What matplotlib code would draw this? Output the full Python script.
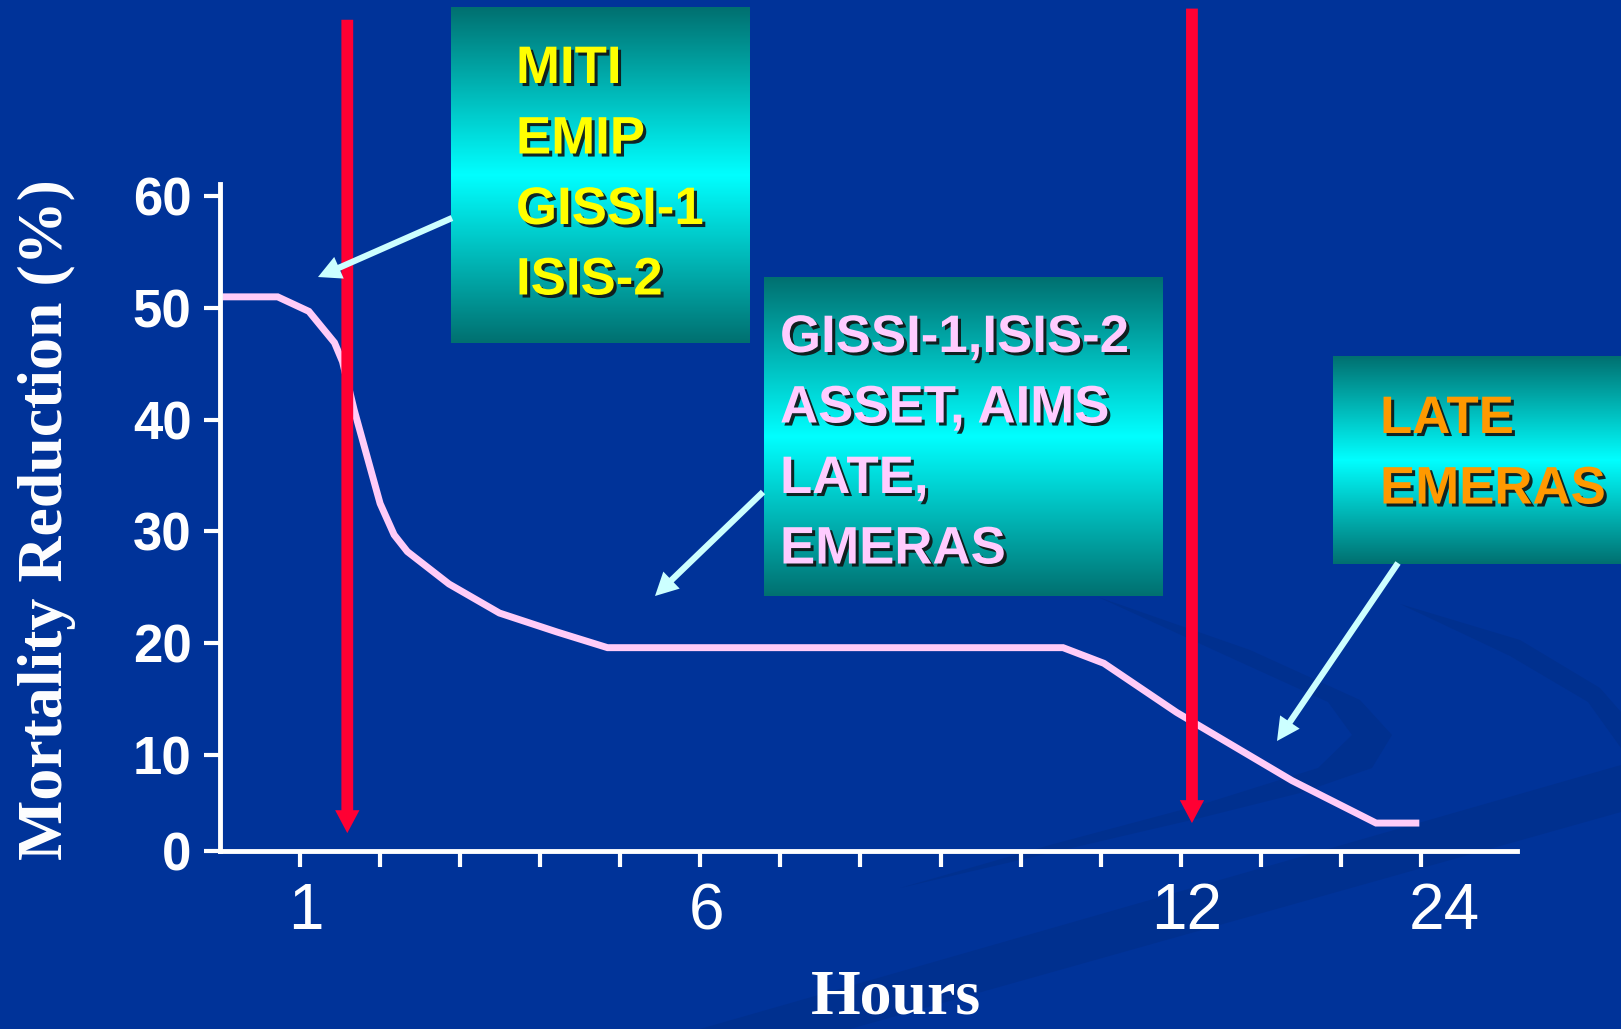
import matplotlib
matplotlib.use("Agg")
import numpy as np
import matplotlib.pyplot as plt
import matplotlib.patheffects as pe
from matplotlib.patches import FancyArrowPatch, ArrowStyle, Polygon
from matplotlib.colors import LinearSegmentedColormap
from matplotlib.transforms import ScaledTranslation

# values
hour_slots = list(range(15))
hour_labels = ['1', '', '', '', '', '6', '', '', '', '', '', '12', '', '', '24']
curve_x = [-0.97, -0.28, 0.11, 0.43, 0.53, 0.675, 1.0, 1.175, 1.34, 1.86, 2.49,
           3.21, 3.84, 9.53, 10.04, 10.95, 12.39, 13.44, 13.98]
curve_y = [51.0, 51.0, 49.7, 46.9, 45.2, 40.9, 32.5, 29.7, 28.2, 25.3, 22.7,
           21.0, 19.6, 19.6, 18.2, 13.8, 7.7, 3.9, 3.9]
y_ticks = [10, 20, 30, 40, 50, 60]
y_floor = 1.4
y_top = 61.1
red_x = [0.59, 11.14]
red_top = [75.8, 76.8]
red_tip = [3.0, 3.9]

box_lines = [["MITI", "EMIP", "GISSI-1", "ISIS-2"],
             ["GISSI-1,ISIS-2", "ASSET, AIMS", "LATE,", "EMERAS"],
             ["LATE", "EMERAS"]]
box_colors = ['#FFFF00', '#FFCCFF', '#FF9900']

W, H = 1621, 1029
BG = '#003399'

fig = plt.figure(figsize=(W / 100, H / 100), dpi=100, facecolor=BG)

# background with the faint swooshes (decoration, pixel coords)
bg = fig.add_axes([0, 0, 1, 1], zorder=0)
bg.set_xlim(0, W)
bg.set_ylim(H, 0)
bg.axis('off')
swoosh = '#00308f'
crescent_a = [(1098, 597), (1250, 650), (1360, 700), (1392, 735), (1372, 768),
              (1300, 793), (1200, 818), (1050, 853), (900, 888),
              (1050, 845), (1200, 805), (1318, 768), (1352, 735), (1328, 702),
              (1240, 662)]
crescent_b = [(1400, 604), (1520, 640), (1600, 688), (1621, 712), (1621, 748),
              (1588, 702), (1510, 656)]
band = [(700, 1029), (1621, 765), (1621, 812), (850, 1029)]
for shape in (crescent_a, crescent_b, band):
    bg.add_patch(Polygon(shape, closed=True, color=swoosh, lw=0))

# the chart itself
ax = fig.add_axes([220 / W, 1 - 851 / H, (1517 - 220) / W, (851 - 184) / H],
                  zorder=1)
ax.set_facecolor('none')
ax.plot(curve_x, curve_y, color='#FFCCF8', lw=5, solid_joinstyle='miter',
        solid_capstyle='butt', zorder=2)

red_style = ArrowStyle.Simple(head_length=16.5, head_width=17.5, tail_width=8.5)
for x, top, tip in zip(red_x, red_top, red_tip):
    arr = FancyArrowPatch((x, top), (x, tip), arrowstyle=red_style,
                          mutation_scale=1, color='#FF0033', lw=0,
                          shrinkA=0, shrinkB=0, clip_on=False, zorder=3)
    ax.add_patch(arr)

ax.set_xlim(-1, 15.2)
ax.set_ylim(y_floor, y_top)
for side in ['top', 'right']:
    ax.spines[side].set_visible(False)
for side in ['left', 'bottom']:
    ax.spines[side].set_color('white')
    ax.spines[side].set_linewidth(3.5)

ax.set_yticks([y_floor] + y_ticks, ['0'] + [str(v) for v in y_ticks])
ax.set_xticks(hour_slots, hour_labels)
ax.tick_params(axis='both', colors='white', length=11.5, width=3, direction='out')
ax.tick_params(axis='y', pad=9, labelsize=38)
ax.tick_params(axis='x', pad=11, labelsize=46)
for lbl in ax.get_yticklabels():
    lbl.set_fontfamily('Liberation Sans')
    lbl.set_fontweight('bold')
for lbl in ax.get_xticklabels():
    lbl.set_fontfamily('Liberation Sans')
    dx = 23 if lbl.get_text() == '24' else 6
    lbl.set_transform(lbl.get_transform() + ScaledTranslation(dx / 100, 0, fig.dpi_scale_trans))

fig.text(47 / W, 1 - 520 / H, 'Mortality Reduction (%)', rotation=90,
         ha='center', va='center', color='white', fontsize=46,
         family='Liberation Serif', fontweight='bold')
fig.text(896 / W, 1 - 1014 / H, 'Hours', ha='center', va='baseline',
         color='white', fontsize=46, family='Liberation Serif', fontweight='bold')

# callout boxes on top, in pixel coordinates
top_ax = fig.add_axes([0, 0, 1, 1], zorder=2)
top_ax.set_facecolor('none')
top_ax.axis('off')

grad_cmap = LinearSegmentedColormap.from_list('teal', ['#007070', '#00FFFF', '#007070'])
grad = np.linspace(0, 1, 256).reshape(-1, 1)
boxes = [(451, 7, 750, 343), (764, 277, 1163, 596), (1333, 356, 1621, 564)]
text_left = [516, 780, 1380]
first_base = [83, 352, 433]
step = 70.5
shadow = [pe.withSimplePatchShadow(offset=(2.2, -2.2), shadow_rgbFace='#111111', alpha=0.9)]

for (x0, y0, x1, y1), lines, col, tx, b0 in zip(boxes, box_lines, box_colors,
                                                 text_left, first_base):
    top_ax.imshow(grad, extent=(x0, x1, y1, y0), cmap=grad_cmap, aspect='auto',
                  interpolation='bicubic', zorder=1)
    for i, line in enumerate(lines):
        top_ax.text(tx, b0 + i * step, line, color=col, fontsize=38,
                    family='Liberation Sans', fontweight='bold',
                    ha='left', va='baseline', path_effects=shadow, zorder=3)

cyan_style = ArrowStyle.Simple(head_length=16.5, head_width=17, tail_width=4.5)
cyan_arrows = [((452, 218), (318, 277)), ((763, 492), (655, 596)),
               ((1398, 563), (1277, 741))]
for start, end in cyan_arrows:
    top_ax.add_patch(FancyArrowPatch(start, end, arrowstyle=cyan_style,
                                     mutation_scale=1, color='#CCFFFF', lw=0,
                                     shrinkA=0, shrinkB=0, zorder=2))

top_ax.set_xlim(0, W)
top_ax.set_ylim(H, 0)

fig.savefig('out.png', dpi=100, facecolor=BG)
